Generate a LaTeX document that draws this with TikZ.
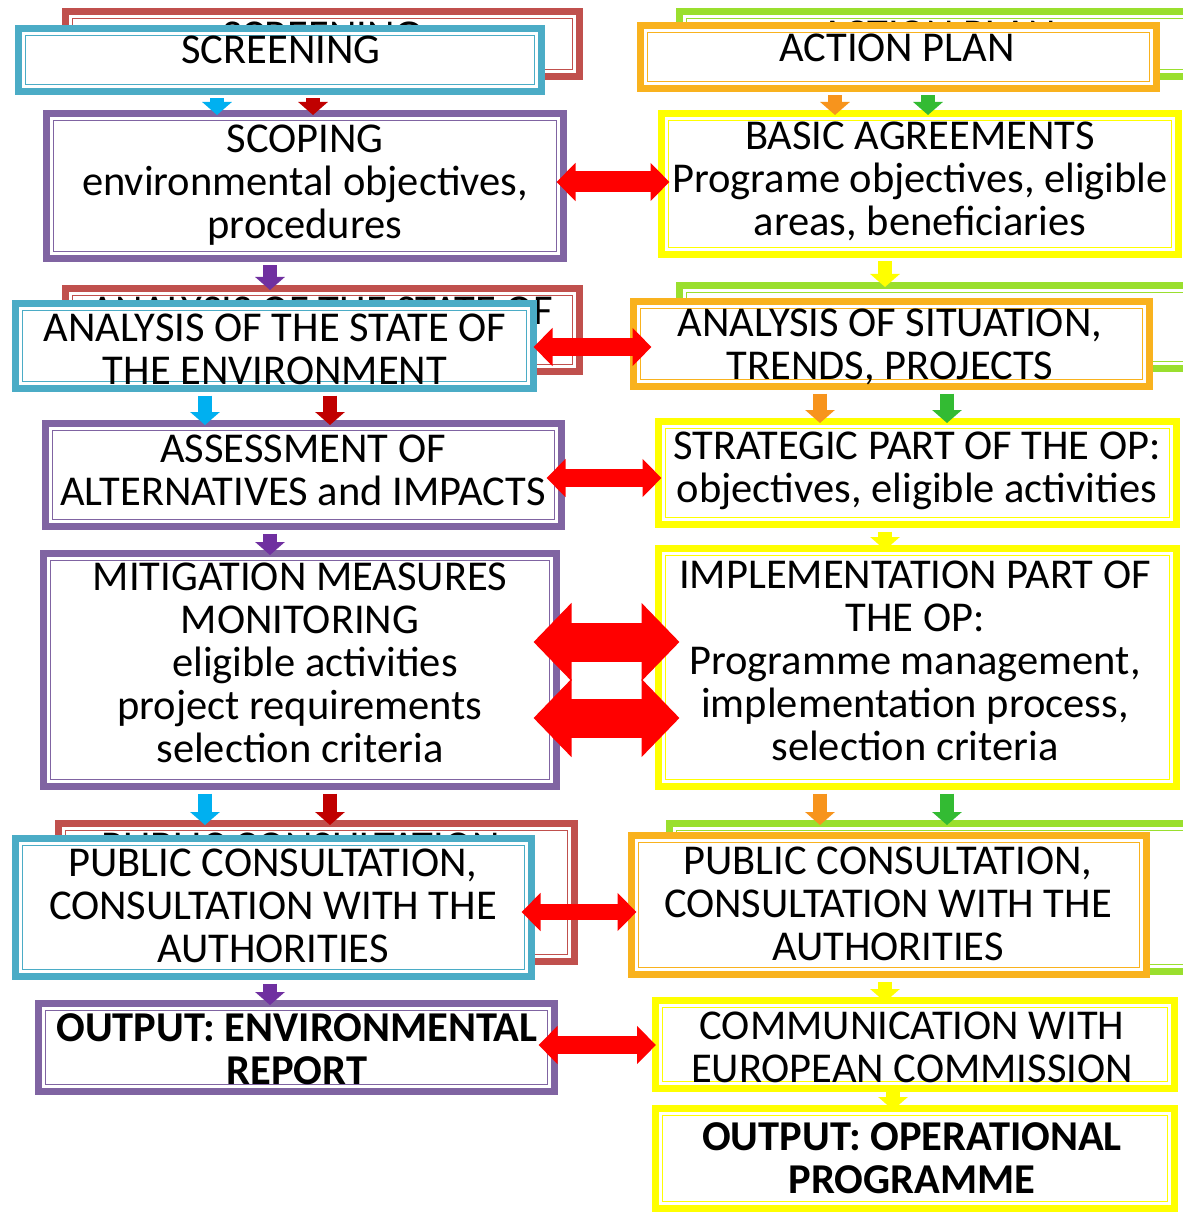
\documentclass[tikz,border=0pt]{standalone}
\usepackage{fontspec}
\setmainfont{Carlito}
\usetikzlibrary{arrows.meta}
\definecolor{cyanB}{HTML}{4BACC6}
\definecolor{redB}{HTML}{C0504D}
\definecolor{purpB}{HTML}{8064A2}
\definecolor{orangeB}{HTML}{F9B21E}
\definecolor{yellowB}{HTML}{FFFF00}
\definecolor{greenB}{HTML}{9ADF2E}
\definecolor{cyanA}{HTML}{00B0F0}
\definecolor{dredA}{HTML}{C00000}
\definecolor{purpA}{HTML}{7030A0}
\definecolor{orangeA}{HTML}{F7941D}
\definecolor{greenA}{HTML}{33BB33}
\definecolor{yellowA}{HTML}{FFFF00}
\definecolor{redA}{HTML}{FF0000}
\begin{document}
\begin{tikzpicture}[x=1pt,y=-1pt,
  boxf/.style={draw=#1, line width=7pt, fill=white, inner sep=0pt,
    path picture={\draw[#1, line width=1.8pt]
      ([shift={(7pt,-7pt)}]path picture bounding box.north west) rectangle
      ([shift={(-7pt,7pt)}]path picture bounding box.south east);}},
  txt/.style={font=\fontsize{42.5}{43}\selectfont, align=center, inner sep=0pt, text=black},
  btxt/.style={txt, font=\fontsize{42.5}{43}\selectfont\bfseries},
  dnar/.style={draw=#1, line width=14pt, -{Triangle[width=29pt,length=13pt]},
    shorten <=3.5pt, shorten >=-5pt},
  bigar/.style={draw=redA, line width=18pt,
    {Triangle[width=37pt,length=19pt]}-{Triangle[width=37pt,length=19pt]}},
  hugear/.style={draw=redA, line width=39pt,
    {Triangle[width=76pt,length=38pt]}-{Triangle[width=76pt,length=38pt]}}
]
\path[use as bounding box, fill=white] (0,0) rectangle (1182,1214);

% ---------- back (shadow) boxes ----------
\node[boxf=redB, minimum width=514pt, minimum height=65pt] (scrB) at (322.5,44) {};
\node[txt] (scrBt) at (322,36) {SCREENING};
\node[boxf=redB, minimum width=514pt, minimum height=83pt] (anaB) at (322.5,330) {};
\node[txt] (anaBt) at (322,332) {ANALYSIS OF THE STATE OF\\THE ENVIRONMENT};
\node[boxf=redB, minimum width=516pt, minimum height=138pt] (pubB) at (316.5,892.5) {};
\node[txt] (pubBt) at (306,890) {PUBLIC CONSULTATION,\\CONSULTATION WITH THE\\AUTHORITIES};

\node[boxf=greenB, minimum width=525pt, minimum height=65pt] (actB) at (942,44) {};
\node[txt] (actBt) at (938,35) {ACTION PLAN};
\node[boxf=greenB, minimum width=525pt, minimum height=83pt] (sitB) at (942,327) {};
\node[txt] (sitBt) at (937,338) {ANALYSIS OF SITUATION,\\TRENDS, PROJECTS};
\node[boxf=greenB, minimum width=535pt, minimum height=148pt] (pubOB) at (937,897.5) {};
\node[txt] (pubOBt) at (920,891) {PUBLIC CONSULTATION,\\CONSULTATION WITH THE\\AUTHORITIES};

% ---------- left column ----------
\node[boxf=cyanB, minimum width=523pt, minimum height=63pt] (scr) at (280,60) {};
\node[txt] (scrt) at (281,50) {SCREENING};
\node[boxf=purpB, minimum width=517pt, minimum height=145pt] (scop) at (305,186) {};
\node[txt] (scopt) at (305,185.5) {SCOPING\\environmental objectives,\\procedures};
\node[boxf=cyanB, minimum width=518pt, minimum height=85pt] (ana) at (274.5,346) {};
\node[txt] (anat) at (275,349) {ANALYSIS OF THE STATE OF\\THE ENVIRONMENT};
\node[boxf=purpB, minimum width=516pt, minimum height=103pt] (ass) at (303.5,475) {};
\node[txt] (asst) at (303,470) {ASSESSMENT OF\\ALTERNATIVES and IMPACTS};
\node[boxf=purpB, minimum width=513pt, minimum height=233pt] (mit) at (300,670) {};
\node[txt] (mitt) at (300,663) {MITIGATION MEASURES\\MONITORING\\\hspace*{30pt}eligible activities\\project requirements\\selection criteria};
\node[boxf=cyanB, minimum width=516pt, minimum height=138pt] (pub) at (273.5,907.5) {};
\node[txt] (pubt) at (273,906) {PUBLIC CONSULTATION,\\CONSULTATION WITH THE\\AUTHORITIES};
\node[boxf=purpB, minimum width=516pt, minimum height=88pt] (outE) at (296.5,1047.5) {};
\node[btxt] (outEt) at (297,1049) {OUTPUT: ENVIRONMENTAL\\REPORT};

% ---------- right column ----------
\node[boxf=orangeB, minimum width=516pt, minimum height=63pt] (act) at (898.5,57) {};
\node[txt] (actt) at (897,48) {ACTION PLAN};
\node[boxf=yellowB, minimum width=517pt, minimum height=141pt] (bas) at (920,184) {};
\node[txt] (bast) at (920,181) {BASIC AGREEMENTS\\Programe objectives, eligible\\areas, beneficiaries};
\node[boxf=orangeB, minimum width=516pt, minimum height=85pt] (sit) at (891.5,344) {};
\node[txt] (sitt) at (890,347) {ANALYSIS OF SITUATION,\\TRENDS, PROJECTS};
\node[boxf=yellowB, minimum width=518pt, minimum height=103pt] (str) at (917.5,473) {};
\node[txt] (strt) at (917,471) {STRATEGIC PART OF THE OP:\\objectives, eligible activities};
\node[boxf=yellowB, minimum width=518pt, minimum height=238pt] (imp) at (917.5,667.5) {};
\node[txt] (impt) at (915,661) {IMPLEMENTATION PART OF\\THE OP:\\Programme management,\\implementation process,\\selection criteria};
\node[boxf=orangeB, minimum width=515pt, minimum height=139pt] (pubO) at (889,905) {};
\node[txt] (pubOt) at (888,904) {PUBLIC CONSULTATION,\\CONSULTATION WITH THE\\AUTHORITIES};
\node[boxf=yellowB, minimum width=519pt, minimum height=88pt] (com) at (915,1044.5) {};
\node[txt] (comt) at (912,1047) {COMMUNICATION WITH\\EUROPEAN COMMISSION};
\node[boxf=yellowB, minimum width=519pt, minimum height=100pt] (outO) at (915,1158.5) {};
\node[btxt] (outOt) at (912,1158) {OUTPUT: OPERATIONAL\\PROGRAMME};

% ---------- x positions of the small arrows ----------
\coordinate (xc1) at (217,0);  \coordinate (xr1) at (313,0);
\coordinate (xp) at (270,0);
\coordinate (xc2) at (205,0);  \coordinate (xr2) at (330,0);
\coordinate (xo1) at (835,0);  \coordinate (xg1) at (928,0);
\coordinate (xy) at (885,0);
\coordinate (xo2) at (820,0);  \coordinate (xg2) at (947,0);
\coordinate (xy4) at (893,0);

% ---------- small down arrows ----------
\draw[dnar=cyanA] (scr.south -| xc1) -- (scop.north -| xc1);
\draw[dnar=dredA] (scr.south -| xr1) -- (scop.north -| xr1);
\draw[dnar=purpA] (scop.south -| xp) -- (anaB.north -| xp);
\draw[dnar=cyanA] (ana.south -| xc2) -- (ass.north -| xc2);
\draw[dnar=dredA] (ana.south -| xr2) -- (ass.north -| xr2);
\draw[dnar=purpA] (ass.south -| xp) -- (mit.north -| xp);
\draw[dnar=cyanA] (mit.south -| xc2) -- (pubB.north -| xc2);
\draw[dnar=dredA] (mit.south -| xr2) -- (pubB.north -| xr2);
\draw[dnar=purpA] (pub.south -| xp) -- (outE.north -| xp);

\draw[dnar=orangeA] (act.south -| xo1) -- (bas.north -| xo1);
\draw[dnar=greenA] (act.south -| xg1) -- (bas.north -| xg1);
\draw[dnar=yellowA] (bas.south -| xy) -- (sitB.north -| xy);
\draw[dnar=orangeA] (sit.south -| xo2) -- (str.north -| xo2);
\draw[dnar=greenA] (sit.south -| xg2) -- (str.north -| xg2);
\draw[dnar=yellowA] (str.south -| xy) -- (imp.north -| xy);
\draw[dnar=orangeA] (imp.south -| xo2) -- (pubOB.north -| xo2);
\draw[dnar=greenA] (imp.south -| xg2) -- (pubOB.north -| xg2);
\draw[dnar=yellowA] (pubO.south -| xy) -- (com.north -| xy);
\draw[dnar=yellowA, shorten <=-4pt] (com.south -| xy4) -- (outO.north -| xy4);

% ---------- y positions of the red double arrows ----------
\coordinate (ya1) at (0,182);
\coordinate (ya2) at (0,347);
\coordinate (ya3) at (0,478);
\coordinate (ya4) at (0,642);
\coordinate (ya5) at (0,718);
\coordinate (ya6) at (0,912);
\coordinate (ya7) at (0,1045);

% ---------- red double arrows ----------
\draw[bigar, line width=21pt, shorten <=-10.5pt, shorten >=-11.5pt] (scop.east |- ya1) -- (bas.west |- ya1);
\draw[bigar, shorten <=-3.5pt, shorten >=-21.5pt] (ana.east |- ya2) -- (sit.west |- ya2);
\draw[bigar, shorten <=-18.5pt, shorten >=-6.5pt] (ass.east |- ya3) -- (str.west |- ya3);
\draw[hugear, shorten <=-26.5pt, shorten >=-24.5pt] (mit.east |- ya4) -- (imp.west |- ya4);
\draw[hugear, shorten <=-26.5pt, shorten >=-24.5pt] (mit.east |- ya5) -- (imp.west |- ya5);
\draw[bigar, line width=16pt, shorten <=-13.5pt, shorten >=-8.5pt] (pub.east |- ya6) -- (pubO.west |- ya6);
\draw[bigar, shorten <=-19.5pt, shorten >=-4pt] (outE.east |- ya7) -- (com.west |- ya7);
\end{tikzpicture}
\end{document}
